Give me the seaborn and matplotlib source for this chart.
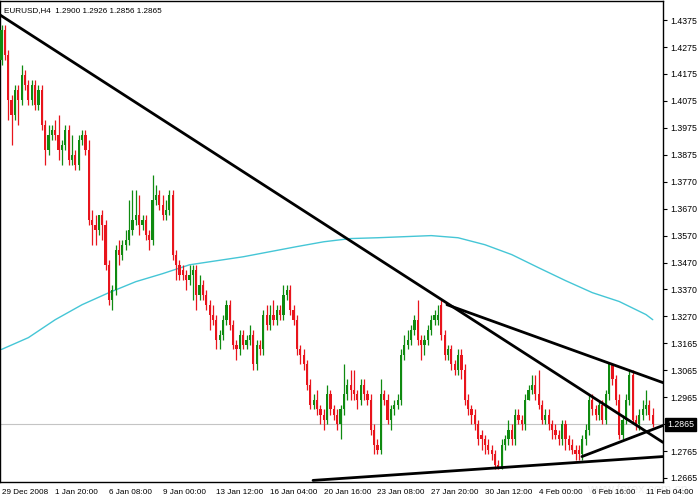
import numpy as np
import pandas as pd
import matplotlib
matplotlib.use("Agg")
import matplotlib.pyplot as plt
import matplotlib.transforms as mtransforms
import seaborn as sns

# ---------------- data ----------------
title = "EURUSD,H4  1.2900 1.2926 1.2856 1.2865"
last_price = 1.2865

date_labels = ["29 Dec 2008", "1 Jan 20:00", "6 Jan 08:00", "9 Jan 00:00", "13 Jan 12:00",
               "16 Jan 04:00", "20 Jan 16:00", "23 Jan 08:00", "27 Jan 20:00", "30 Jan 12:00",
               "4 Feb 00:00", "6 Feb 16:00", "11 Feb 04:00"]
date_label_bars = [0, 16, 32, 48, 64, 80, 96, 112, 128, 144, 160, 176, 192]

price_tick_values = [1.4375, 1.4274, 1.4174, 1.4073, 1.3973, 1.3872, 1.3771, 1.3671, 1.3570,
                     1.3469, 1.3369, 1.3268, 1.3168, 1.3067, 1.2966, 1.2866, 1.2765, 1.2665]
price_tick_labels = ["1.4375", "1.4275", "1.4175", "1.4075", "1.3975", "1.3875", "1.3770", "1.3670",
                     "1.3570", "1.3470", "1.3370", "1.3270", "1.3165", "1.3065", "1.2965", "",
                     "1.2765", "1.2665"]

opens = [
    1.4226, 1.4338, 1.4245, 1.4077, 1.4021, 1.4114, 1.4077, 1.4170, 1.4133, 1.4077,
    1.4133, 1.4058, 1.4114, 1.3984, 1.3890, 1.3946, 1.3965, 1.3946, 1.3890, 1.3909,
    1.3965, 1.3853, 1.3872, 1.3835, 1.3928, 1.3946, 1.3890, 1.3629, 1.3611, 1.3592,
    1.3648, 1.3611, 1.3461, 1.3331, 1.3368, 1.3517, 1.3499, 1.3536, 1.3555, 1.3592,
    1.3629, 1.3648, 1.3611, 1.3629, 1.3573, 1.3555, 1.3704, 1.3723, 1.3685, 1.3648,
    1.3667, 1.3723, 1.3499, 1.3461, 1.3443, 1.3424, 1.3406, 1.3424, 1.3443, 1.3350,
    1.3387, 1.3350, 1.3312, 1.3275, 1.3256, 1.3182, 1.3200, 1.3256, 1.3312, 1.3238,
    1.3163, 1.3145, 1.3200, 1.3163, 1.3182, 1.3200, 1.3089, 1.3163, 1.3145, 1.3275,
    1.3238, 1.3275, 1.3256, 1.3294, 1.3275, 1.3350, 1.3368, 1.3294, 1.3256, 1.3145,
    1.3126, 1.3089, 1.3014, 1.2939, 1.2958, 1.2921, 1.2902, 1.2883, 1.2977, 1.2921,
    1.2902, 1.2865, 1.2921, 1.2977, 1.3014, 1.2995, 1.2977, 1.2958, 1.3014, 1.2977,
    1.2958, 1.2846, 1.2790, 1.2771, 1.2977, 1.2958, 1.2883, 1.2921, 1.2939, 1.2958,
    1.3126, 1.3163, 1.3182, 1.3219, 1.3256, 1.3182, 1.3163, 1.3182, 1.3219, 1.3256,
    1.3256, 1.3312, 1.3200, 1.3126, 1.3145, 1.3089, 1.3070, 1.3126, 1.3070, 1.2958,
    1.2921, 1.2902, 1.2865, 1.2827, 1.2809, 1.2790, 1.2771, 1.2753, 1.2715, 1.2697,
    1.2790, 1.2809, 1.2846, 1.2809, 1.2902, 1.2883, 1.2865, 1.2958, 1.2995, 1.3014,
    1.2977, 1.2939, 1.2883, 1.2902, 1.2865, 1.2846, 1.2827, 1.2809, 1.2865, 1.2809,
    1.2790, 1.2771, 1.2771, 1.2753, 1.2809, 1.2846, 1.2958, 1.2921, 1.2902, 1.2939,
    1.2883, 1.2977, 1.3089, 1.3033, 1.2958, 1.2827, 1.2883, 1.2958, 1.3051, 1.2883,
    1.2865, 1.2902, 1.2921, 1.2939, 1.2900]

highs = [
    1.4357, 1.4357, 1.4263, 1.4096, 1.4133, 1.4133, 1.4208, 1.4189, 1.4152, 1.4152,
    1.4152, 1.4133, 1.4133, 1.4002, 1.3984, 1.3984, 1.4002, 1.4021, 1.3928, 1.3984,
    1.3984, 1.3946, 1.3890, 1.3946, 1.3965, 1.3965, 1.3928, 1.3667, 1.3648, 1.3648,
    1.3667, 1.3629, 1.3480, 1.3387, 1.3536, 1.3555, 1.3555, 1.3592, 1.3704, 1.3741,
    1.3741, 1.3723, 1.3648, 1.3648, 1.3592, 1.3797, 1.3760, 1.3741, 1.3723, 1.3704,
    1.3741, 1.3741, 1.3517, 1.3480, 1.3461, 1.3443, 1.3461, 1.3461, 1.3461, 1.3424,
    1.3406, 1.3368, 1.3331, 1.3312, 1.3275, 1.3219, 1.3275, 1.3331, 1.3331, 1.3256,
    1.3182, 1.3219, 1.3219, 1.3200, 1.3238, 1.3219, 1.3182, 1.3182, 1.3294, 1.3312,
    1.3312, 1.3331, 1.3312, 1.3312, 1.3387, 1.3387, 1.3387, 1.3312, 1.3275, 1.3163,
    1.3145, 1.3107, 1.3033, 1.2977, 1.2995, 1.2939, 1.2921, 1.3014, 1.2995, 1.2939,
    1.2921, 1.2939, 1.3089, 1.3033, 1.3070, 1.3070, 1.2995, 1.3033, 1.3033, 1.2995,
    1.2977, 1.2865, 1.2809, 1.3033, 1.2995, 1.2977, 1.2939, 1.2958, 1.2977, 1.3145,
    1.3200, 1.3219, 1.3238, 1.3275, 1.3331, 1.3200, 1.3200, 1.3238, 1.3275, 1.3294,
    1.3312, 1.3331, 1.3219, 1.3163, 1.3163, 1.3107, 1.3145, 1.3145, 1.3089, 1.2977,
    1.2939, 1.2921, 1.2883, 1.2846, 1.2827, 1.2809, 1.2790, 1.2771, 1.2734, 1.2809,
    1.2827, 1.2883, 1.2865, 1.2921, 1.2921, 1.2902, 1.2977, 1.3014, 1.3051, 1.3051,
    1.3070, 1.2958, 1.2921, 1.2921, 1.2883, 1.2865, 1.2846, 1.2883, 1.2883, 1.2827,
    1.2809, 1.2790, 1.2790, 1.2827, 1.2865, 1.2977, 1.2977, 1.2939, 1.2958, 1.2958,
    1.2995, 1.3089, 1.3089, 1.3051, 1.2977, 1.2902, 1.2977, 1.3070, 1.3070, 1.2902,
    1.2921, 1.2958, 1.2995, 1.2958, 1.2926]

lows = [
    1.4208, 1.4226, 1.4002, 1.3909, 1.4002, 1.3984, 1.4058, 1.4114, 1.4058, 1.4058,
    1.4040, 1.4040, 1.3965, 1.3835, 1.3872, 1.3928, 1.3928, 1.3853, 1.3835, 1.3890,
    1.3835, 1.3835, 1.3816, 1.3816, 1.3909, 1.3872, 1.3611, 1.3536, 1.3536, 1.3573,
    1.3555, 1.3443, 1.3312, 1.3294, 1.3350, 1.3461, 1.3480, 1.3517, 1.3536, 1.3573,
    1.3611, 1.3573, 1.3592, 1.3555, 1.3517, 1.3536, 1.3685, 1.3667, 1.3629, 1.3629,
    1.3648, 1.3480, 1.3406, 1.3406, 1.3406, 1.3368, 1.3387, 1.3331, 1.3294, 1.3331,
    1.3331, 1.3294, 1.3219, 1.3238, 1.3145, 1.3145, 1.3182, 1.3238, 1.3219, 1.3145,
    1.3107, 1.3126, 1.3145, 1.3145, 1.3163, 1.3070, 1.3070, 1.3126, 1.3126, 1.3219,
    1.3219, 1.3238, 1.3238, 1.3256, 1.3256, 1.3331, 1.3275, 1.3238, 1.3126, 1.3089,
    1.3070, 1.2995, 1.2921, 1.2921, 1.2902, 1.2865, 1.2846, 1.2865, 1.2902, 1.2883,
    1.2846, 1.2809, 1.2902, 1.2958, 1.2958, 1.2958, 1.2921, 1.2939, 1.2958, 1.2939,
    1.2827, 1.2753, 1.2753, 1.2753, 1.2939, 1.2865, 1.2846, 1.2902, 1.2921, 1.2939,
    1.3107, 1.3145, 1.3163, 1.3200, 1.3163, 1.3107, 1.3126, 1.3163, 1.3200, 1.3238,
    1.3238, 1.3182, 1.3107, 1.3107, 1.3070, 1.3051, 1.3051, 1.3033, 1.2939, 1.2902,
    1.2865, 1.2846, 1.2790, 1.2771, 1.2753, 1.2753, 1.2734, 1.2697, 1.2697, 1.2697,
    1.2771, 1.2790, 1.2790, 1.2790, 1.2865, 1.2846, 1.2846, 1.2958, 1.2977, 1.2958,
    1.2921, 1.2865, 1.2865, 1.2846, 1.2809, 1.2809, 1.2790, 1.2790, 1.2771, 1.2771,
    1.2753, 1.2734, 1.2734, 1.2734, 1.2790, 1.2827, 1.2902, 1.2883, 1.2883, 1.2865,
    1.2865, 1.2958, 1.3014, 1.2939, 1.2809, 1.2809, 1.2865, 1.2939, 1.2865, 1.2846,
    1.2846, 1.2883, 1.2902, 1.2883, 1.2856]

closes = [
    1.4338, 1.4245, 1.4077, 1.4021, 1.4114, 1.4077, 1.4170, 1.4133, 1.4077, 1.4133,
    1.4058, 1.4114, 1.3984, 1.3890, 1.3946, 1.3965, 1.3946, 1.3890, 1.3909, 1.3965,
    1.3853, 1.3872, 1.3835, 1.3928, 1.3946, 1.3890, 1.3629, 1.3611, 1.3592, 1.3648,
    1.3611, 1.3461, 1.3331, 1.3368, 1.3517, 1.3499, 1.3536, 1.3555, 1.3592, 1.3629,
    1.3648, 1.3611, 1.3629, 1.3573, 1.3555, 1.3704, 1.3723, 1.3685, 1.3648, 1.3667,
    1.3723, 1.3499, 1.3461, 1.3424, 1.3424, 1.3406, 1.3424, 1.3443, 1.3350, 1.3387,
    1.3350, 1.3312, 1.3275, 1.3256, 1.3182, 1.3200, 1.3256, 1.3312, 1.3238, 1.3163,
    1.3145, 1.3200, 1.3163, 1.3182, 1.3200, 1.3089, 1.3163, 1.3145, 1.3275, 1.3238,
    1.3275, 1.3256, 1.3294, 1.3275, 1.3350, 1.3368, 1.3294, 1.3256, 1.3145, 1.3126,
    1.3089, 1.3014, 1.2939, 1.2958, 1.2921, 1.2902, 1.2883, 1.2977, 1.2921, 1.2902,
    1.2865, 1.2921, 1.2977, 1.3014, 1.2995, 1.2977, 1.2958, 1.3014, 1.2977, 1.2958,
    1.2846, 1.2790, 1.2771, 1.2977, 1.2958, 1.2883, 1.2921, 1.2939, 1.2958, 1.3126,
    1.3163, 1.3182, 1.3219, 1.3256, 1.3182, 1.3163, 1.3182, 1.3219, 1.3256, 1.3275,
    1.3275, 1.3200, 1.3126, 1.3145, 1.3089, 1.3070, 1.3126, 1.3070, 1.2958, 1.2921,
    1.2902, 1.2865, 1.2809, 1.2809, 1.2790, 1.2771, 1.2753, 1.2715, 1.2697, 1.2790,
    1.2809, 1.2846, 1.2809, 1.2902, 1.2883, 1.2865, 1.2958, 1.2995, 1.3014, 1.2977,
    1.2939, 1.2883, 1.2902, 1.2865, 1.2846, 1.2827, 1.2809, 1.2865, 1.2809, 1.2790,
    1.2771, 1.2753, 1.2753, 1.2809, 1.2846, 1.2958, 1.2921, 1.2902, 1.2939, 1.2883,
    1.2977, 1.3089, 1.3033, 1.2958, 1.2827, 1.2883, 1.2958, 1.3051, 1.2883, 1.2865,
    1.2902, 1.2921, 1.2939, 1.2902, 1.2865]

# moving average (cyan), sampled at bar positions
ma_bars = [0, 8, 16, 24, 32, 40, 48, 56, 64, 72, 80, 88, 96, 104, 112, 120, 128,
           136, 144, 152, 160, 168, 176, 184, 192, 194]
ma_values = [1.3145, 1.3189, 1.3256, 1.3312, 1.3357, 1.3398, 1.3428, 1.3461, 1.3476,
             1.3491, 1.3510, 1.3529, 1.3547, 1.3559, 1.3562, 1.3566, 1.3570, 1.3562,
             1.3536, 1.3499, 1.3450, 1.3402, 1.3357, 1.3324, 1.3275, 1.3256]

# trend lines: (start bar, start price, end bar, end price)
trend_start_bar = [-0.45, 132.7, 92.8, 172.9]
trend_start_price = [1.4394, 1.3312, 1.2656, 1.2745]
trend_end_bar = [197.05, 197.05, 197.05, 197.05]
trend_end_price = [1.2798, 1.3021, 1.2745, 1.2861]

# ---------------- plot ----------------
sns.set_style("white")
plt.rcParams['font.family'] = ['Liberation Sans', 'DejaVu Sans']

W, H = 698, 498
fig = plt.figure(figsize=(W / 100, H / 100), dpi=100)
fig.patch.set_facecolor("white")
ax = fig.add_axes([0.0 / W, 16 / H, 663 / W, 481 / H])
ax.set_facecolor("white")

df = pd.DataFrame({"open": opens, "high": highs, "low": lows, "close": closes})
df["bar"] = np.arange(len(df))
up = df["close"] >= df["open"]
green = "#0f8a10"
red = "#e8141c"
colors = np.where(up, green, red)

ax.vlines(df["bar"], df["low"], df["high"], colors=colors, linewidth=0.9, zorder=3)
body_bottom = np.minimum(df["open"], df["close"])
body_h = np.maximum(np.abs(df["close"] - df["open"]), 0.00035)
ax.bar(df["bar"], body_h, bottom=body_bottom, width=0.65, color=colors,
       linewidth=0, zorder=4)

# moving average
sns.lineplot(x=ma_bars, y=ma_values, ax=ax, color="#45c6d6", linewidth=1.0, zorder=2)

# current price line
ax.axhline(last_price, color="#c4c4c4", linewidth=0.8, zorder=1)

# trend lines
for xs, ys, xe, ye in zip(trend_start_bar, trend_start_price, trend_end_bar, trend_end_price):
    sns.lineplot(x=[xs, xe], y=[ys, ye], ax=ax, color="black", linewidth=2.0, zorder=5)

ax.set_xlim(-0.45, 197.05)
ax.set_ylim(1.2650, 1.4446)

# axes styling
for s in ax.spines.values():
    s.set_color("black")
    s.set_linewidth(1.0)

ax.yaxis.tick_right()
ax.set_yticks(price_tick_values)
ax.set_yticklabels(price_tick_labels)
ax.set_xticks(date_label_bars)
ax.set_xticklabels(date_labels, ha="left")
ax.tick_params(axis="both", direction="out", length=3, width=0.8, color="black",
               labelcolor="black", pad=2)
ax.tick_params(axis="y", labelsize=6.3)
ax.tick_params(axis="x", labelsize=5.9, pad=2)
ax.set_xlabel("")
ax.set_ylabel("")

# current price box
trans = mtransforms.blended_transform_factory(ax.transAxes, ax.transData)
ax.text(1.006, last_price, "1.2865", transform=trans, ha="left", va="center",
        fontsize=6.3, color="white", zorder=10,
        bbox=dict(boxstyle="square,pad=0.2", facecolor="black", edgecolor="black"))

# title
ax.text(0.006, 0.988, title, transform=ax.transAxes, ha="left", va="top",
        fontsize=5.9, color="black", zorder=10)

# faint watermark (drawn behind everything else)
fig.text(0.985, 0.004, "www.forex.com.cn", ha="right", va="bottom", fontsize=9,
         color="#efefef", zorder=-1)

fig.savefig("out.png", dpi=100, facecolor="white")
